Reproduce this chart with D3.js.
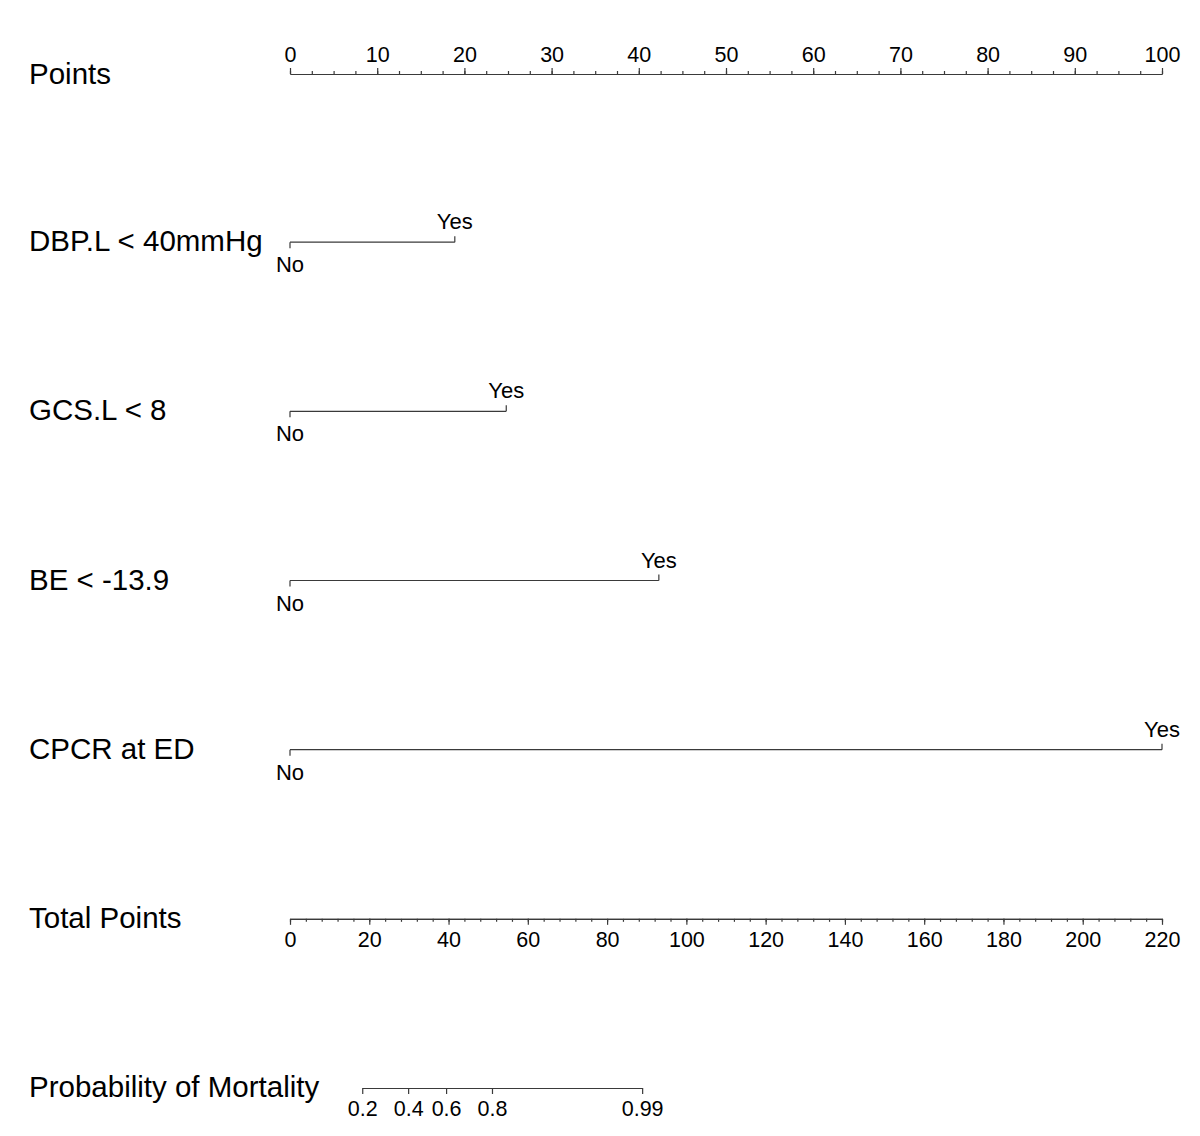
<!DOCTYPE html>
<html>
<head>
<meta charset="utf-8">
<script src="https://cdn.jsdelivr.net/npm/d3@7"></script>
<style>
  body { margin: 0; background: #fff; }
  svg text { font-family: "Liberation Sans", Arial, sans-serif; fill: #000; }
</style>
</head>
<body>
<div id="chart"></div>
<script>
// rows of the nomogram, top to bottom
const rows = ["Points", "DBP.L < 40mmHg", "GCS.L < 8", "BE < -13.9", "CPCR at ED", "Total Points", "Probability of Mortality"];

// predictors (Yes = points given, No = 0)
const predictors = ["DBP.L < 40mmHg", "GCS.L < 8", "BE < -13.9", "CPCR at ED"];
const yesPoints = [18.9, 24.8, 42.3, 100];

// axis ticks
const pointLabels = [0, 10, 20, 30, 40, 50, 60, 70, 80, 90, 100];
const pointMinorStep = 2.5;
const totalLabels = [0, 20, 40, 60, 80, 100, 120, 140, 160, 180, 200, 220];
const totalMinorStep = 4;
const probTicks = [0.2, 0.4, 0.6, 0.8, 0.99];

// logistic model: logit(p) = intercept + slope * totalPoints
const intercept = -2.93;
const slope = 0.0847;

const width = 1200, height = 1136;
const svg = d3.select("#chart").append("svg")
    .attr("width", width)
    .attr("height", height);

const lineColor = "#3a3a3a";
const y = d3.scalePoint().domain(rows).range([73, 1088]);
const xPts = d3.scaleLinear().domain([0, 100]).range([290, 1162]);
const xTot = d3.scaleLinear().domain([0, 220]).range([290, 1162]);

// row labels
svg.selectAll("text.rowlabel")
    .data(rows)
    .enter()
    .append("text")
    .attr("class", "rowlabel")
    .attr("x", 29)
    .attr("y", d => y(d) + (d == "Points" ? 11 : 9))
    .style("font-size", "29.5px")
    .text(d => d);

function styleAxis(g) {
    g.selectAll("path, line").attr("stroke", lineColor).attr("stroke-width", 1.2);
    g.selectAll("text").style("font-size", "21.5px").attr("fill", "#000");
}

// Points axis (ticks up)
const ptsMinor = d3.range(0, 100 + 0.001, pointMinorStep);
const gPts = svg.append("g").attr("transform", "translate(0," + (y("Points") + 1) + ")");
gPts.call(d3.axisTop(xPts).tickValues(ptsMinor).tickSize(3).tickFormat("").tickSizeOuter(0));
gPts.append("g").call(d3.axisTop(xPts).tickValues(pointLabels).tickSize(6).tickPadding(6).tickFormat(d3.format("d")).tickSizeOuter(0));
gPts.selectAll(".domain").attr("fill", "none");
styleAxis(gPts);

// predictor lines
predictors.forEach((name, i) => {
    const yy = y(name);
    const g = svg.append("g");
    g.append("line")
        .attr("x1", xPts(0)).attr("x2", xPts(yesPoints[i]))
        .attr("y1", yy).attr("y2", yy)
        .attr("stroke", lineColor).attr("stroke-width", 1.2);
    g.append("line")
        .attr("x1", xPts(0)).attr("x2", xPts(0))
        .attr("y1", yy).attr("y2", yy + 6)
        .attr("stroke", lineColor).attr("stroke-width", 1.2);
    g.append("line")
        .attr("x1", xPts(yesPoints[i])).attr("x2", xPts(yesPoints[i]))
        .attr("y1", yy).attr("y2", yy - 6)
        .attr("stroke", lineColor).attr("stroke-width", 1.2);
    g.append("text")
        .attr("x", xPts(0)).attr("y", yy + 30)
        .attr("text-anchor", "middle")
        .style("font-size", "22px")
        .text("No");
    g.append("text")
        .attr("x", xPts(yesPoints[i])).attr("y", yy - 13)
        .attr("text-anchor", "middle")
        .style("font-size", "22px")
        .text("Yes");
});

// Total Points axis (ticks down)
const totMinor = d3.range(0, 220 + 0.001, totalMinorStep);
const gTot = svg.append("g").attr("transform", "translate(0," + y("Total Points") + ")");
gTot.call(d3.axisBottom(xTot).tickValues(totMinor).tickSize(3).tickFormat("").tickSizeOuter(0));
gTot.append("g").call(d3.axisBottom(xTot).tickValues(totalLabels).tickSize(6).tickPadding(7).tickFormat(d3.format("d")).tickSizeOuter(0));
gTot.selectAll(".domain").attr("fill", "none");
styleAxis(gTot);

// Probability axis: positions from the model through the total points scale
const logit = p => Math.log(p / (1 - p));
const probToTotal = p => (logit(p) - intercept) / slope;
const xProb = d3.scaleLinear()
    .domain([logit(probTicks[0]), logit(probTicks[probTicks.length - 1])])
    .range([xTot(probToTotal(probTicks[0])), xTot(probToTotal(probTicks[probTicks.length - 1]))]);
const gProb = svg.append("g").attr("transform", "translate(0," + y("Probability of Mortality") + ")");
gProb.call(d3.axisBottom(xProb)
    .tickValues(probTicks.map(logit))
    .tickSize(6).tickPadding(7).tickSizeOuter(0)
    .tickFormat((d, i) => String(probTicks[i])));
gProb.selectAll(".domain").attr("fill", "none");
styleAxis(gProb);
</script>
</body>
</html>
